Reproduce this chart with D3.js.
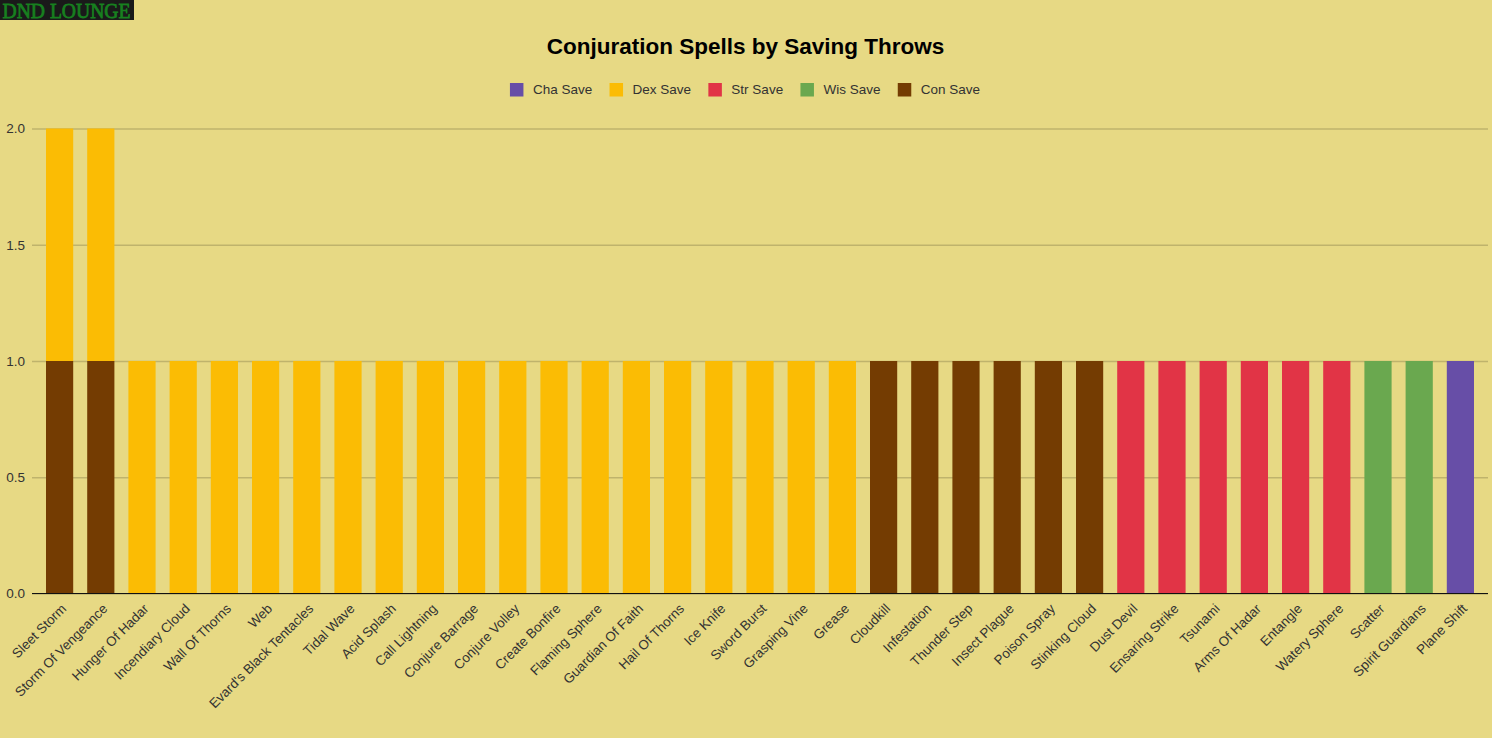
<!DOCTYPE html>
<html>
<head>
<meta charset="utf-8">
<title>Conjuration Spells by Saving Throws</title>
<script src="https://cdn.jsdelivr.net/npm/d3@7"></script>
<style>
	html, body { margin: 0; padding: 0; background: #e7d984; overflow: hidden; }
	#logo { position: absolute; left: 0; top: 0; width: 134px; height: 20px; background: #1a1a1a; overflow: visible; }
	text { font-family: "Liberation Sans", Arial, sans-serif; }
</style>
</head>
<body>
<svg id="logo" width="134" height="20"><text x="2.5" y="17.5" textLength="128" lengthAdjust="spacingAndGlyphs" style="font-family:'Liberation Serif',serif;font-size:22px;" stroke="#17801f" stroke-width="0.8" fill="#17801f">DND LOUNGE</text></svg>
<svg id="chartsvg" width="1492" height="738"></svg>
<script>
var spells = ["Sleet Storm","Storm Of Vengeance","Hunger Of Hadar","Incendiary Cloud","Wall Of Thorns","Web","Evard's Black Tentacles","Tidal Wave","Acid Splash","Call Lightning","Conjure Barrage","Conjure Volley","Create Bonfire","Flaming Sphere","Guardian Of Faith","Hail Of Thorns","Ice Knife","Sword Burst","Grasping Vine","Grease","Cloudkill","Infestation","Thunder Step","Insect Plague","Poison Spray","Stinking Cloud","Dust Devil","Ensaring Strike","Tsunami","Arms Of Hadar","Entangle","Watery Sphere","Scatter","Spirit Guardians","Plane Shift"];

var chaSave = [0,0,0,0,0,0,0,0,0,0,0,0,0,0,0,0,0,0,0,0,0,0,0,0,0,0,0,0,0,0,0,0,0,0,1];
var dexSave = [1,1,1,1,1,1,1,1,1,1,1,1,1,1,1,1,1,1,1,1,0,0,0,0,0,0,0,0,0,0,0,0,0,0,0];
var strSave = [0,0,0,0,0,0,0,0,0,0,0,0,0,0,0,0,0,0,0,0,0,0,0,0,0,0,1,1,1,1,1,1,0,0,0];
var wisSave = [0,0,0,0,0,0,0,0,0,0,0,0,0,0,0,0,0,0,0,0,0,0,0,0,0,0,0,0,0,0,0,0,1,1,0];
var conSave = [1,1,0,0,0,0,0,0,0,0,0,0,0,0,0,0,0,0,0,0,1,1,1,1,1,1,0,0,0,0,0,0,0,0,0];

var legendNames = ["Cha Save","Dex Save","Str Save","Wis Save","Con Save"];
var legendColors = ["#674ea7","#fbbc04","#e13446","#6aa84f","#743c02"];
var stackOrder = ["Con Save","Dex Save","Str Save","Wis Save","Cha Save"];
var yTicks = [0,0.5,1,1.5,2];

var seriesByName = {"Cha Save":chaSave,"Dex Save":dexSave,"Str Save":strSave,"Wis Save":wisSave,"Con Save":conSave};

var svg = d3.select("#chartsvg").style("position","absolute").style("left",0).style("top",0);
d3.select("#logo").style("z-index",2);

var x = d3.scaleBand().domain(spells).range([39,1481]).paddingInner(0.34).paddingOuter(0.17);
var y = d3.scaleLinear().domain([0,2]).range([593.5,128.5]);
var color = d3.scaleOrdinal().domain(legendNames).range(legendColors);

//Title
svg.append("text").attr("x",745.5).attr("y",54).attr("text-anchor","middle")
	.style("font-size","22.5px").style("font-weight","bold").attr("fill","#000")
	.text("Conjuration Spells by Saving Throws");

//Legend, laid out from measured text widths and centred under the title
var legend = svg.append("g");
var lx = 0;
legendNames.forEach(function(name) {
	var g = legend.append("g").attr("transform","translate("+lx+",0)");
	g.append("rect").attr("width",13.5).attr("height",13.5).attr("y",83).attr("fill",color(name));
	var t = g.append("text").attr("x",23).attr("y",94).style("font-size","13.5px").attr("fill","#333").text(name);
	lx += 23 + t.node().getComputedTextLength() + 17.3;
});
legend.attr("transform","translate("+(745-(lx-17.3)/2)+",0)");

//Gridlines and y labels
var yAxis = d3.axisLeft(y).tickValues(yTicks).tickFormat(d3.format(".1f")).tickSize(-1456).tickPadding(7);
var ya = svg.append("g").attr("transform","translate(32,0)").call(yAxis);
ya.select(".domain").remove();
ya.selectAll("line").attr("stroke","#bfb36c").attr("stroke-width",1.5);
ya.selectAll("text").style("font-size","13.5px").style("font-family","'Liberation Sans'").attr("fill","#333");

//Stacked bars
var rows = spells.map(function(s,i) {
	var row = {spell:s};
	stackOrder.forEach(function(k) { row[k] = seriesByName[k][i]; });
	return row;
});
var stacked = d3.stack().keys(stackOrder)(rows);
svg.append("g").selectAll("g").data(stacked).join("g")
	.attr("fill",function(d) { return color(d.key); })
	.selectAll("rect").data(function(d) { return d.filter(function(v) { return v[1] > v[0]; }); }).join("rect")
	.attr("x",function(d) { return x(d.data.spell); })
	.attr("width",x.bandwidth())
	.attr("y",function(d) { return y(d[1]); })
	.attr("height",function(d) { return y(d[0]) - y(d[1]); });

//Baseline and rotated category labels
var xAxis = d3.axisBottom(x).tickSize(0).tickPadding(0);
var xa = svg.append("g").attr("transform","translate(0,"+y(0)+")").call(xAxis);
xa.select(".domain").remove();
xa.selectAll("text")
	.style("font-size","13.4px").style("font-family","'Liberation Sans'").attr("fill","#333")
	.attr("text-anchor","end").attr("dy",0).attr("y",0)
	.attr("transform","translate(7.5,16) rotate(-45)");
svg.append("line").attr("x1",32).attr("x2",1488).attr("y1",y(0)).attr("y2",y(0)).attr("stroke","#111").attr("stroke-width",1);
</script>
</body>
</html>
